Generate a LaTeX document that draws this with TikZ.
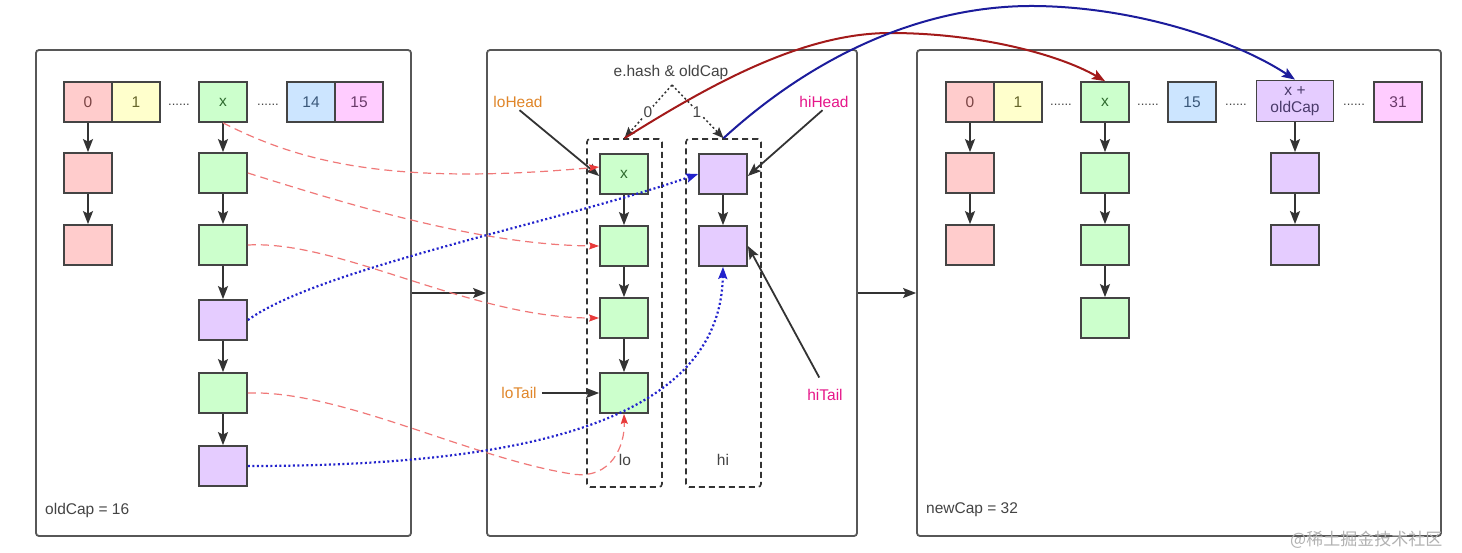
\documentclass[tikz,border=0pt]{standalone}
\usepackage{fontspec}
\setmainfont{Liberation Sans}
\newfontfamily\cjk{Noto Sans CJK SC}
\usetikzlibrary{arrows.meta}
\definecolor{cRed}{HTML}{FFCCCC}
\definecolor{cYel}{HTML}{FFFFCC}
\definecolor{cGrn}{HTML}{CCFFCC}
\definecolor{cBlu}{HTML}{CCE5FF}
\definecolor{cMag}{HTML}{FFCCFF}
\definecolor{cPur}{HTML}{E5CCFF}
\definecolor{tRed}{HTML}{7A4444}
\definecolor{tYel}{HTML}{66662A}
\definecolor{tGrn}{HTML}{2F6B2F}
\definecolor{tBlu}{HTML}{3A587A}
\definecolor{tMag}{HTML}{6A3A6A}
\definecolor{tPur}{HTML}{4A3A6A}
\definecolor{edge}{HTML}{444444}
\definecolor{loCol}{HTML}{E0862A}
\definecolor{hiCol}{HTML}{E6178A}
\definecolor{dashRed}{HTML}{F07878}
\definecolor{tipRed}{HTML}{E83A3A}
\definecolor{dotBlue}{HTML}{2222CC}
\definecolor{darkRed}{HTML}{A31A1A}
\definecolor{navy}{HTML}{1C1C9C}
\tikzset{
  fnt/.style={font=\fontsize{15.5}{17}\selectfont},
  cell/.style={draw=edge, line width=1.8pt, minimum width=48pt, minimum height=40pt, inner sep=0pt, fnt},
  red/.style={cell, fill=cRed, text=tRed},
  yel/.style={cell, fill=cYel, text=tYel},
  grn/.style={cell, fill=cGrn, text=tGrn},
  blu/.style={cell, fill=cBlu, text=tBlu},
  mag/.style={cell, fill=cMag, text=tMag},
  pur/.style={cell, fill=cPur, text=tPur},
  panel/.style={draw=edge!90, line width=1.8pt, rounded corners=3pt, inner sep=0pt},
  group/.style={draw=black!80, line width=1.6pt, dash pattern=on 6pt off 4pt, rounded corners=3pt, inner sep=0pt, minimum width=75pt, minimum height=348pt},
  dotstxt/.style={font=\fontsize{13}{14}\selectfont, text=edge, inner sep=0pt},
  arr/.style={draw=black!80, line width=1.8pt, -{Stealth[length=13pt,width=10pt,inset=2.5pt]}},
  redarr/.style={draw=dashRed, line width=1.2pt, dash pattern=on 8pt off 5pt, -{Stealth[length=10pt,width=7pt,inset=1.5pt,color=tipRed]}},
  bluarr/.style={draw=dotBlue, line width=2.2pt, dash pattern=on 2pt off 2.5pt, -{Stealth[length=12pt,width=9pt,inset=2pt,color=dotBlue]}},
  selarr/.style={draw=black!80, line width=1.5pt, dash pattern=on 2pt off 2.5pt, -{Stealth[length=11pt,width=9pt,inset=2pt]}},
  lbl/.style={fnt, inner sep=1pt},
}
\begin{document}
\begin{tikzpicture}[x=1pt,y=-1pt]
\useasboundingbox (0,0) rectangle (1462,552);
\fill[white] (0,0) rectangle (1462,552);

% panels
\node[panel, minimum width=375pt, minimum height=486pt] (lp) at (223.5,293) {};
\node[panel, minimum width=370pt, minimum height=486pt] (mp) at (672,293) {};
\node[panel, minimum width=524pt, minimum height=486pt] (rp) at (1179,293) {};
\draw[arr] (lp) -- (mp);
\draw[arr] (mp) -- (rp);

\node[lbl, text=edge, anchor=west] (oldcap) at (44,510) {oldCap = 16};
\node[lbl, text=edge, anchor=west] (newcap) at (925,510) {newCap = 32};

% left panel
\node[red] (L0) at (88,102) {0};
\node[yel] (L1) at (136,102) {1};
\node[dotstxt] (Ld1) at (179,105) {......};
\node[grn] (Lx) at (223,102) {x};
\node[dotstxt] (Ld2) at (268,105) {......};
\node[blu] (L14) at (311,102) {14};
\node[mag] (L15) at (359,102) {15};
\node[red] (L0a) at (88,173) {};
\node[red] (L0b) at (88,245) {};
\node[grn] (Lx1) at (223,173) {};
\node[grn] (Lx2) at (223,245) {};
\node[pur] (Lx3) at (223,320) {};
\node[grn] (Lx4) at (223,393) {};
\node[pur] (Lx5) at (223,466) {};
\draw[arr] (L0) -- (L0a);
\draw[arr] (L0a) -- (L0b);
\draw[arr] (Lx) -- (Lx1);
\draw[arr] (Lx1) -- (Lx2);
\draw[arr] (Lx2) -- (Lx3);
\draw[arr] (Lx3) -- (Lx4);
\draw[arr] (Lx4) -- (Lx5);

% middle panel
\node[group] (lobox) at (624.5,313) {};
\node[group] (hibox) at (723.5,313) {};
\node[grn] (lo1) at (624,174) {x};
\node[grn] (lo2) at (624,246) {};
\node[grn] (lo3) at (624,318) {};
\node[grn] (lo4) at (624,393) {};
\node[pur] (hi1) at (723,174) {};
\node[pur] (hi2) at (723,246) {};
\draw[arr] (lo1) -- (lo2);
\draw[arr] (lo2) -- (lo3);
\draw[arr] (lo3) -- (lo4);
\draw[arr] (hi1) -- (hi2);
\node[lbl, text=edge] (lolbl) at (625,460) {lo};
\node[lbl, text=edge] (hilbl) at (723,460) {hi};

\node[lbl, text=edge] (sel) at (671,72) {e.hash \& oldCap};
\coordinate (apex) at (672,85);
\draw[selarr] (apex) -- (lobox.north);
\draw[selarr] (apex) -- (hibox.north);
\node[lbl, text=edge, fill=white, inner sep=0.5pt] (zero) at (648,112) {0};
\node[lbl, text=edge, fill=white, inner sep=0.5pt] (one) at (697,112) {1};

\node[lbl, text=loCol] (lohead) at (518,102) {loHead};
\node[lbl, text=loCol] (lotail) at (519,393) {loTail};
\node[lbl, text=hiCol] (hihead) at (824,102) {hiHead};
\node[lbl, text=hiCol] (hitail) at (825,395) {hiTail};
\draw[arr, shorten <=2pt] (lohead.south) -- ([yshift=-2pt]lo1.west);
\draw[arr, shorten <=4pt] (lotail.east) -- (lo4.west);
\draw[arr, shorten <=2pt] (hihead.south) -- ([yshift=-2pt]hi1.east);
\draw[arr, shorten <=12pt] (hitail.north) -- (hi2.east);

% right panel
\node[red] (R0) at (970,102) {0};
\node[yel] (R1) at (1018,102) {1};
\node[dotstxt] (Rd1) at (1061,105) {......};
\node[grn] (Rx) at (1105,102) {x};
\node[dotstxt] (Rd2) at (1148,105) {......};
\node[blu] (R15) at (1192,102) {15};
\node[dotstxt] (Rd3) at (1236,105) {......};
\node[pur, minimum width=77pt, minimum height=41pt, align=center, font=\fontsize{15.5}{16.5}\selectfont] (Rxo) at (1295,101) {x +\\oldCap};
\node[dotstxt] (Rd4) at (1354,105) {......};
\node[mag] (R31) at (1398,102) {31};
\node[red] (R0a) at (970,173) {};
\node[red] (R0b) at (970,245) {};
\node[grn] (Rx1) at (1105,173) {};
\node[grn] (Rx2) at (1105,245) {};
\node[grn] (Rx3) at (1105,318) {};
\node[pur] (Rxo1) at (1295,173) {};
\node[pur] (Rxo2) at (1295,245) {};
\draw[arr] (R0) -- (R0a);
\draw[arr] (R0a) -- (R0b);
\draw[arr] (Rx) -- (Rx1);
\draw[arr] (Rx1) -- (Rx2);
\draw[arr] (Rx2) -- (Rx3);
\draw[arr] (Rxo) -- (Rxo1);
\draw[arr] (Rxo1) -- (Rxo2);

% red dashed moves (lo)
\draw[redarr] (Lx.south) .. controls (300,162) and (390,186) .. ([yshift=7pt]lo1.west);
\draw[redarr] (Lx1.east) .. controls (350,205) and (480,245) .. (lo2.west);
\draw[redarr] (Lx2.east) .. controls (340,240) and (470,318) .. (lo3.west);
\draw[redarr] (Lx4.east) .. controls (340,390) and (470,458) .. (572,474) .. controls (612,480) and (625,445) .. (lo4.south);

% blue dotted moves (hi)
\draw[bluarr] (Lx3.east) .. controls (320,268) and (560,222) .. (hi1.west);
\draw[bluarr] (Lx5.east) .. controls (500,466) and (720,430) .. (hi2.south);

% heads to new table
\draw[draw=darkRed, line width=2pt, -{Stealth[length=13pt,width=10pt,inset=2.5pt]}] (lobox.north) .. controls (705,88) and (800,33) .. (890,33) .. controls (980,33) and (1060,55) .. (Rx.north);
\draw[draw=navy, line width=2pt, -{Stealth[length=13pt,width=10pt,inset=2.5pt]}] (hibox.north) .. controls (820,50) and (930,5) .. (1035,6) .. controls (1135,7) and (1235,40) .. (Rxo.north);

% watermark
\node[text=black!30, font=\cjk\fontsize{17}{18}\selectfont, anchor=west, inner sep=0pt] (wm) at (1290,540) {@稀土掘金技术社区};
\end{tikzpicture}
\end{document}
